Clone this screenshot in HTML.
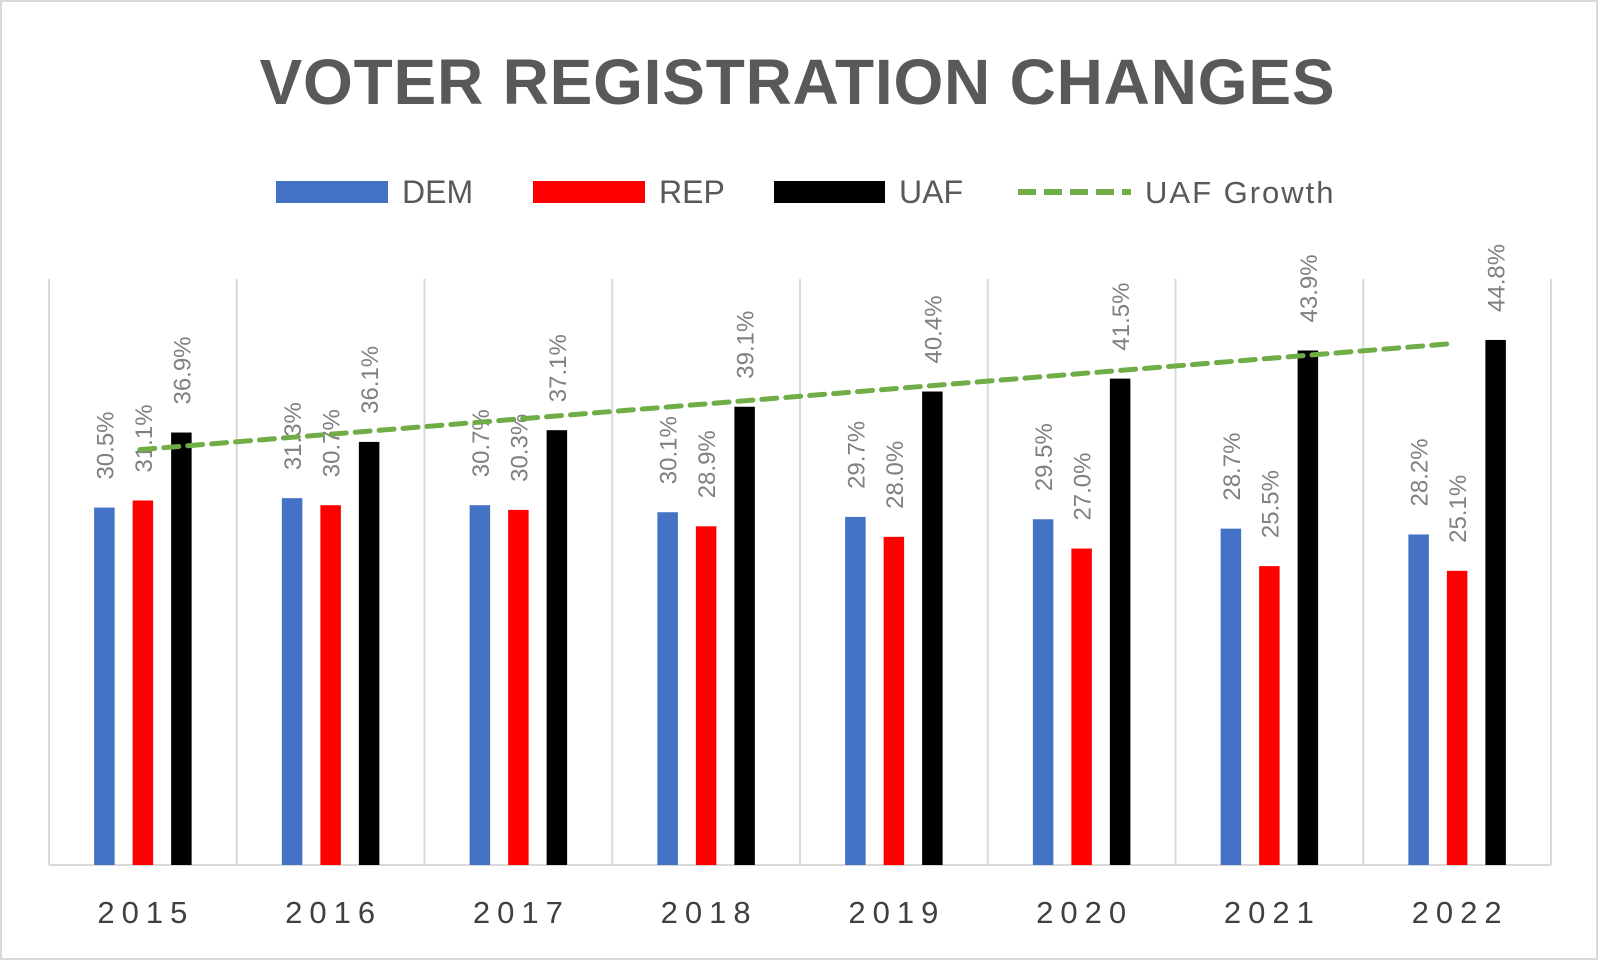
<!DOCTYPE html>
<html><head><meta charset="utf-8"><style>
html,body{margin:0;padding:0;background:#fff;}
svg{display:block;font-family:"Liberation Sans",sans-serif;}
</style></head><body>
<svg id="chart" width="1600" height="962" viewBox="0 0 1600 962">
<rect x="1" y="1" width="1596" height="958" fill="#fff" stroke="#d9d9d9" stroke-width="2"/>
<text x="797" y="104" text-anchor="middle" font-size="64" font-weight="bold" fill="#595959" textLength="1075" lengthAdjust="spacing">VOTER REGISTRATION CHANGES</text>
<g>
 <g><rect x="276" y="181" width="112" height="22" fill="#4472c4"/><text x="402" y="203" font-size="32" fill="#595959">DEM</text></g>
 <g><rect x="533" y="181" width="112" height="22" fill="#ff0000"/><text x="659" y="203" font-size="32" fill="#595959">REP</text></g>
 <g><rect x="774" y="181" width="111" height="22" fill="#000"/><text x="899" y="203" font-size="32" fill="#595959">UAF</text></g>
 <g><line x1="1018" y1="192" x2="1131" y2="192" stroke="#70ad47" stroke-width="6" stroke-dasharray="18 8"/><text x="1145" y="203" font-size="31" fill="#595959" letter-spacing="2">UAF Growth</text></g>
</g>
<g id="plot"></g>
</svg>
<script>
const categories = ["2015","2016","2017","2018","2019","2020","2021","2022"];
const demValues = [30.5,31.3,30.7,30.1,29.7,29.5,28.7,28.2];
const repValues = [31.1,30.7,30.3,28.9,28.0,27.0,25.5,25.1];
const uafValues = [36.9,36.1,37.1,39.1,40.4,41.5,43.9,44.8];

const NS = "http://www.w3.org/2000/svg";
const plot = document.getElementById('plot');
const plotLeft = 49, plotRight = 1551, plotBase = 865, plotTop = 279, yMax = 50;
const catW = (plotRight - plotLeft) / categories.length;
const barW = 20.5, off = 38.5;
const xC = i => plotLeft + catW * (i + 0.5);
const yS = v => plotBase - (v / yMax) * (plotBase - plotTop);

function mk(tag, attrs) { const e = document.createElementNS(NS, tag); for (const k in attrs) e.setAttribute(k, attrs[k]); plot.appendChild(e); return e; }

for (let i = 0; i <= categories.length; i++) {
  const g = mk('line', {x1: plotLeft + catW * i, x2: plotLeft + catW * i, y1: plotTop, y2: plotBase, stroke: '#d9d9d9', 'stroke-width': 2});
  
  
}
const ax = mk('line', {x1: plotLeft, x2: plotRight, y1: plotBase, y2: plotBase, stroke: '#d9d9d9', 'stroke-width': 2});



const series = [[demValues, '#4472c4', -off, 'dem'], [repValues, '#ff0000', 0, 'rep'], [uafValues, '#000000', off, 'uaf']];
categories.forEach((c, i) => {
  series.forEach(([vals, col, o, nm]) => {
    const cx = xC(i) + o, y = yS(vals[i]);
    const r = mk('rect', {x: cx - barW / 2, y: y, width: barW, height: plotBase - y, fill: col});
    
    
    const t = mk('text', {x: 0, y: 0, 'font-size': 24, fill: '#808080', transform: `translate(${cx + 9},${y - 28}) rotate(-90)`});
    t.textContent = vals[i].toFixed(1) + '%';
    
    
  });
  const xl = mk('text', {x: xC(i) + 3, y: 923, 'font-size': 31, fill: '#404040', 'text-anchor': 'middle', 'letter-spacing': 7});
  xl.textContent = c;
  
  
});

// linear trendline of UAF
const n = uafValues.length;
const mx = (n - 1) / 2, my = uafValues.reduce((a, b) => a + b, 0) / n;
let sxy = 0, sxx = 0;
uafValues.forEach((v, i) => { sxy += (i - mx) * (v - my); sxx += (i - mx) * (i - mx); });
const slope = sxy / sxx, icpt = my - slope * mx;
const tl = mk('line', {x1: xC(0) - 3, y1: yS(icpt), x2: xC(n - 1) - 2, y2: yS(icpt + slope * (n - 1)), stroke: '#70ad47', 'stroke-width': 5, 'stroke-dasharray': '15 9', 'stroke-linecap': 'round'});


</script>
</body></html>
